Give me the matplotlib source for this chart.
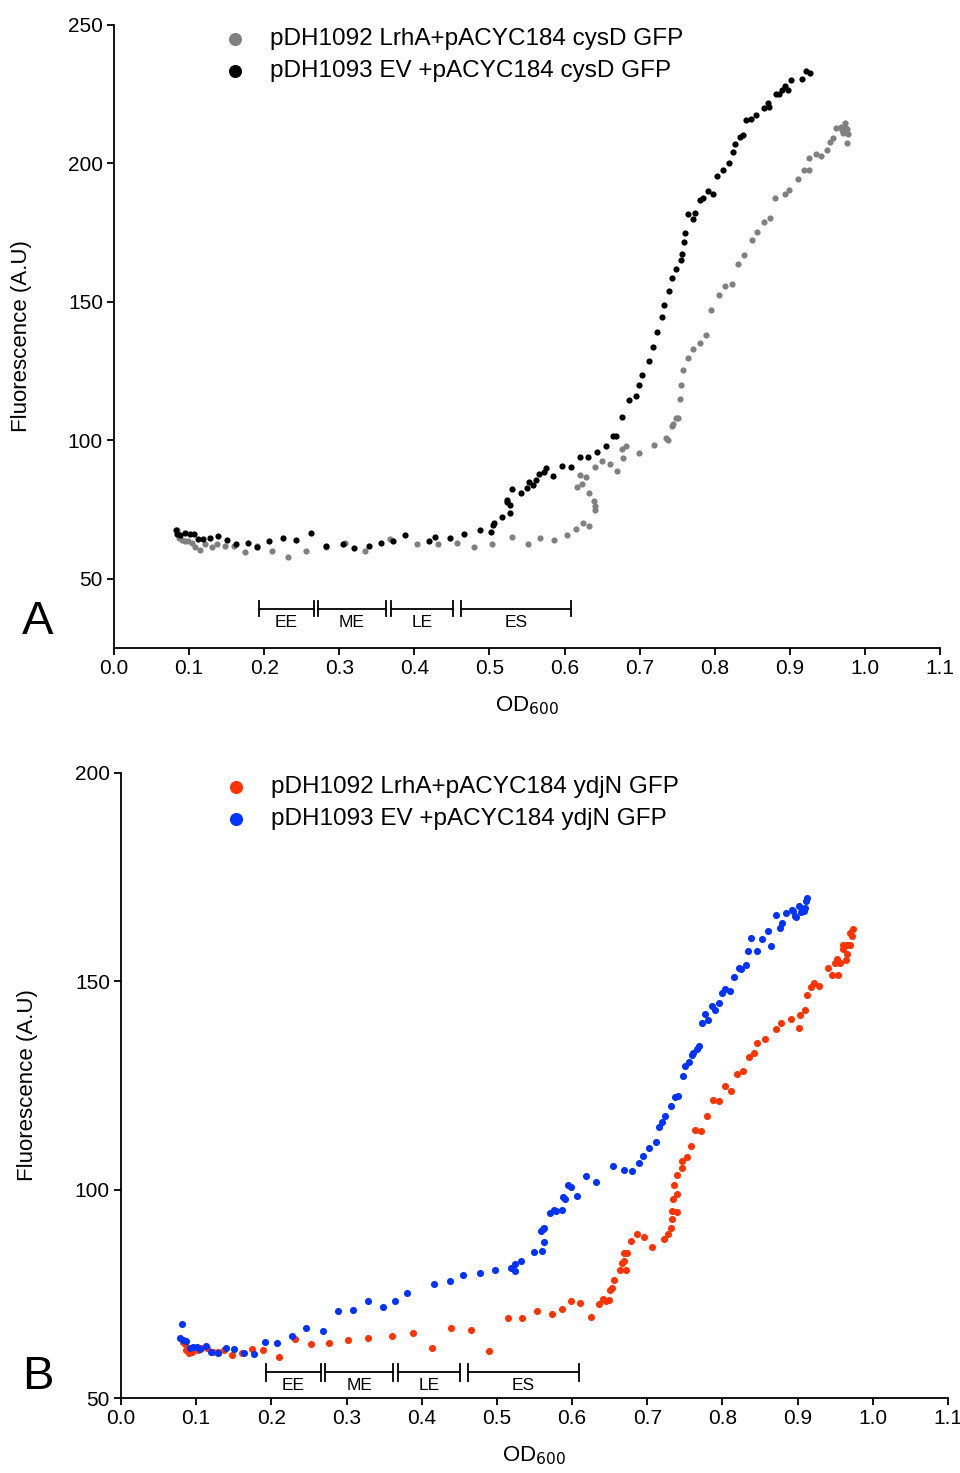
import matplotlib
matplotlib.use('Agg')
import matplotlib.pyplot as plt
import numpy as np

plt.rcParams['font.family'] = ['Liberation Sans', 'DejaVu Sans']

# ---- panel A : cysD GFP ----
lrha_cysd_x = [
    0.084, 0.086, 0.090, 0.095, 0.099, 0.104, 0.108, 0.115, 0.121, 0.130,
    0.137, 0.148, 0.160, 0.174, 0.190, 0.210, 0.232, 0.256, 0.282, 0.308,
    0.334, 0.368, 0.403, 0.432, 0.457, 0.479, 0.503, 0.530, 0.551, 0.567,
    0.586, 0.603, 0.615, 0.625, 0.632, 0.640, 0.641, 0.639, 0.633, 0.623,
    0.617, 0.621, 0.629, 0.641, 0.650, 0.661, 0.670, 0.678, 0.677, 0.682,
    0.699, 0.719, 0.735, 0.738, 0.743, 0.745, 0.748, 0.751, 0.754, 0.755,
    0.758, 0.764, 0.771, 0.781, 0.788, 0.795, 0.806, 0.814, 0.823, 0.831,
    0.839, 0.849, 0.856, 0.866, 0.873, 0.880, 0.894, 0.899, 0.911, 0.919,
    0.925, 0.926, 0.935, 0.942, 0.949, 0.953, 0.957, 0.962, 0.968, 0.973,
    0.976, 0.978, 0.976, 0.971, 0.969, 0.973]
lrha_cysd_y = [
    67.7, 64.7, 64.1, 63.8, 63.5, 62.9, 61.4, 60.5, 62.5, 61.4,
    62.5, 61.9, 61.7, 59.5, 61.9, 60.2, 57.9, 60.2, 61.3, 63.1,
    60.2, 64.3, 62.5, 62.7, 62.9, 61.6, 62.5, 65.2, 62.5, 64.8,
    64.1, 65.9, 67.8, 70.0, 69.1, 74.9, 76.4, 78.2, 80.9, 84.2,
    83.1, 87.4, 86.9, 90.2, 92.7, 91.3, 89.0, 93.6, 96.8, 97.8,
    95.6, 98.3, 100.8, 100.2, 105.0, 106.0, 108.0, 108.0, 114.9, 119.9,
    125.5, 129.7, 132.9, 135.3, 138.0, 146.9, 152.5, 155.7, 156.6, 163.7,
    166.9, 172.3, 175.2, 178.8, 180.4, 187.5, 188.9, 190.4, 194.3, 197.5,
    197.5, 202.1, 203.3, 202.7, 204.9, 207.7, 209.3, 212.7, 213.3, 214.7,
    212.5, 210.6, 207.3, 210.9, 212.0, 213.0]

ev_cysd_x = [
    0.082, 0.084, 0.088, 0.095, 0.101, 0.106, 0.112, 0.119, 0.128, 0.138,
    0.151, 0.163, 0.178, 0.191, 0.206, 0.225, 0.242, 0.262, 0.282, 0.305,
    0.319, 0.340, 0.356, 0.371, 0.388, 0.419, 0.427, 0.448, 0.466, 0.487,
    0.502, 0.505, 0.506, 0.517, 0.527, 0.528, 0.523, 0.524, 0.530, 0.542,
    0.550, 0.553, 0.558, 0.562, 0.566, 0.573, 0.575, 0.585, 0.597, 0.608,
    0.621, 0.631, 0.643, 0.655, 0.664, 0.669, 0.677, 0.686, 0.695, 0.699,
    0.703, 0.712, 0.718, 0.723, 0.730, 0.733, 0.739, 0.743, 0.749, 0.755,
    0.757, 0.759, 0.761, 0.764, 0.771, 0.774, 0.780, 0.785, 0.791, 0.798,
    0.803, 0.811, 0.819, 0.824, 0.827, 0.833, 0.837, 0.842, 0.848, 0.855,
    0.865, 0.872, 0.871, 0.881, 0.886, 0.889, 0.894, 0.898, 0.902, 0.916,
    0.922, 0.927]
ev_cysd_y = [
    67.7, 66.1, 65.9, 66.5, 66.1, 66.1, 64.5, 64.5, 64.7, 65.5,
    64.0, 62.5, 62.9, 61.3, 63.5, 64.9, 64.1, 66.7, 61.9, 62.7,
    61.2, 61.9, 63.1, 63.5, 65.9, 63.6, 65.1, 64.8, 66.2, 67.7,
    66.9, 69.5, 70.3, 72.3, 73.9, 76.7, 77.9, 78.5, 82.6, 80.9,
    82.7, 84.9, 83.9, 85.7, 87.9, 88.4, 90.1, 87.2, 90.8, 90.5,
    94.1, 94.1, 95.7, 97.8, 101.7, 101.6, 108.6, 114.4, 116.1, 120.1,
    123.5, 128.7, 133.6, 139.3, 144.6, 148.7, 153.9, 158.7, 161.8, 165.3,
    167.3, 171.7, 175.0, 181.7, 180.1, 182.0, 186.8, 187.6, 190.1, 189.1,
    195.5, 197.6, 200.1, 204.0, 207.1, 209.5, 210.3, 215.6, 216.1, 217.4,
    220.1, 220.5, 221.7, 225.1, 225.0, 226.5, 228.1, 226.6, 230.1, 230.5,
    233.4, 232.6]

# ---- panel B : ydjN GFP ----
lrha_ydjn_x = [
    0.083, 0.085, 0.087, 0.091, 0.094, 0.098, 0.103, 0.107, 0.114, 0.123,
    0.129, 0.137, 0.148, 0.161, 0.174, 0.189, 0.210, 0.231, 0.253, 0.276,
    0.302, 0.329, 0.360, 0.388, 0.414, 0.439, 0.466, 0.490, 0.515, 0.534,
    0.553, 0.573, 0.586, 0.599, 0.611, 0.625, 0.636, 0.641, 0.645, 0.649,
    0.651, 0.653, 0.656, 0.664, 0.672, 0.667, 0.669, 0.669, 0.673, 0.679,
    0.686, 0.695, 0.706, 0.722, 0.727, 0.731, 0.733, 0.739, 0.733, 0.734,
    0.739, 0.736, 0.739, 0.746, 0.746, 0.753, 0.758, 0.764, 0.772, 0.779,
    0.788, 0.796, 0.804, 0.812, 0.819, 0.827, 0.835, 0.842, 0.846, 0.857,
    0.871, 0.878, 0.891, 0.902, 0.903, 0.910, 0.913, 0.918, 0.922, 0.928,
    0.941, 0.946, 0.954, 0.950, 0.953, 0.957, 0.964, 0.965, 0.961, 0.961,
    0.965, 0.969, 0.972, 0.970, 0.974]
lrha_ydjn_y = [
    63.5, 62.9, 61.5, 60.9, 61.1, 61.9, 61.5, 61.9, 61.9, 61.1,
    61.1, 61.5, 60.3, 60.7, 61.8, 61.5, 59.9, 64.1, 63.0, 63.3,
    63.9, 64.5, 65.0, 65.6, 62.0, 66.8, 66.3, 61.4, 69.3, 69.2,
    71.0, 70.2, 71.3, 73.3, 72.7, 69.5, 72.5, 73.8, 73.4, 73.5,
    76.0, 76.4, 78.4, 80.8, 80.7, 82.4, 82.8, 84.9, 84.7, 87.7,
    89.4, 88.7, 86.2, 88.1, 89.4, 90.9, 93.0, 94.7, 95.0, 97.8,
    99.0, 101.2, 103.5, 105.1, 107.0, 107.9, 110.6, 114.4, 114.0, 117.7,
    121.6, 121.4, 124.9, 123.7, 127.8, 128.6, 131.9, 132.8, 135.1, 136.1,
    138.6, 140.0, 140.9, 138.9, 141.8, 143.0, 146.6, 148.6, 149.5, 148.8,
    153.1, 151.6, 151.6, 154.3, 155.3, 154.5, 155.1, 156.5, 157.7, 158.8,
    158.8, 158.7, 160.9, 161.7, 162.5]

ev_ydjn_x = [
    0.081, 0.079, 0.082, 0.086, 0.092, 0.096, 0.101, 0.105, 0.113, 0.120,
    0.129, 0.139, 0.150, 0.163, 0.177, 0.191, 0.208, 0.227, 0.246, 0.269,
    0.288, 0.308, 0.329, 0.348, 0.364, 0.380, 0.416, 0.438, 0.455, 0.477,
    0.498, 0.519, 0.524, 0.524, 0.532, 0.549, 0.560, 0.563, 0.559, 0.561,
    0.563, 0.571, 0.576, 0.579, 0.587, 0.588, 0.591, 0.594, 0.599, 0.607,
    0.619, 0.632, 0.654, 0.669, 0.680, 0.689, 0.694, 0.702, 0.711, 0.715,
    0.719, 0.724, 0.732, 0.737, 0.741, 0.747, 0.750, 0.755, 0.759, 0.761,
    0.766, 0.769, 0.773, 0.777, 0.781, 0.786, 0.790, 0.795, 0.800, 0.804,
    0.810, 0.815, 0.822, 0.825, 0.831, 0.834, 0.846, 0.838, 0.852, 0.860,
    0.865, 0.877, 0.879, 0.871, 0.885, 0.892, 0.894, 0.896, 0.898, 0.902,
    0.905, 0.909, 0.910, 0.911, 0.912]
ev_ydjn_y = [
    67.7, 64.4, 63.9, 63.7, 61.9, 62.2, 62.2, 61.8, 62.5, 61.1,
    60.8, 61.9, 61.8, 60.7, 60.5, 63.5, 63.1, 64.8, 66.8, 66.0,
    70.8, 71.2, 73.3, 71.9, 73.2, 75.3, 77.3, 78.0, 79.6, 80.0,
    80.8, 81.2, 80.6, 82.2, 82.9, 85.0, 85.3, 87.5, 90.1, 90.6,
    90.9, 94.5, 95.1, 95.0, 95.2, 98.2, 97.8, 101.2, 100.7, 98.6,
    103.4, 101.8, 105.8, 104.7, 104.4, 106.4, 108.2, 109.9, 111.5, 115.1,
    116.3, 117.6, 120.0, 122.3, 122.4, 127.2, 129.6, 130.6, 132.3, 132.9,
    133.7, 134.5, 139.9, 142.2, 140.6, 144.1, 143.0, 144.7, 147.3, 148.1,
    147.6, 151.1, 153.3, 152.9, 153.8, 157.3, 157.3, 160.3, 160.1, 162.0,
    158.5, 162.7, 164.1, 165.9, 166.4, 167.2, 166.8, 165.6, 165.4, 168.0,
    166.7, 166.8, 167.6, 169.2, 170.0]

# growth phases (OD600 ranges)
phase_labels = ['EE', 'ME', 'LE', 'ES']
phase_start = [0.193, 0.272, 0.369, 0.462]
phase_end = [0.266, 0.362, 0.451, 0.609]

xticks = np.round(np.arange(0, 1.11, 0.1), 1)


def style_axis(ax, ylim, yticks):
    ax.set_xlim(0, 1.1)
    ax.set_ylim(*ylim)
    ax.set_xticks(xticks)
    ax.set_xticklabels(['%.1f' % t for t in xticks])
    ax.set_yticks(yticks)
    for s in ['top', 'right']:
        ax.spines[s].set_visible(False)
    for s in ['left', 'bottom']:
        ax.spines[s].set_linewidth(1.3)
    ax.tick_params(direction='out', length=5, width=1.3, labelsize=15, pad=3)
    ax.set_xlabel('OD$_{600}$', fontsize=16)
    ax.set_ylabel('Fluorescence (A.U)', fontsize=16)


def draw_phases(ax, y, half, text_y):
    for lab, a, b in zip(phase_labels, phase_start, phase_end):
        ax.plot([a, b], [y, y], color='black', lw=1.3)
        ax.plot([a, a], [y - half, y + half], color='black', lw=1.3)
        ax.plot([b, b], [y - half, y + half], color='black', lw=1.3)
        ax.text((a + b) / 2, text_y, lab, ha='center', va='center', fontsize=12.5)


fig = plt.figure(figsize=(9.6, 14.73), dpi=100)
ax1 = fig.add_axes([114 / 960, 1 - 648 / 1473, 826 / 960, 623 / 1473])
ax2 = fig.add_axes([121 / 960, 1 - 1398 / 1473, 827 / 960, 625 / 1473])

ax1.scatter(lrha_cysd_x, lrha_cysd_y, s=20, color='#808080', linewidths=0,
            label='pDH1092 LrhA+pACYC184 cysD GFP')
ax1.scatter(ev_cysd_x, ev_cysd_y, s=20, color='black', linewidths=0,
            label='pDH1093 EV +pACYC184 cysD GFP')
style_axis(ax1, (25, 250), [50, 100, 150, 200, 250])
draw_phases(ax1, 39.2, 2.8, 34.2)

ax2.scatter(lrha_ydjn_x, lrha_ydjn_y, s=26, color='#ff3300', linewidths=0,
            label='pDH1092 LrhA+pACYC184 ydjN GFP')
ax2.scatter(ev_ydjn_x, ev_ydjn_y, s=26, color='#0033ff', linewidths=0,
            label='pDH1093 EV +pACYC184 ydjN GFP')
style_axis(ax2, (50, 200), [50, 100, 150, 200])
draw_phases(ax2, 56.2, 2.0, 53.0)

ax1.yaxis.set_label_coords(-0.099, 0.5)
ax2.yaxis.set_label_coords(-0.100, 0.5)
for ax, x0, y0, mscale in ((ax1, 0.132, 0.995, 2.1), (ax2, 0.124, 0.995, 1.85)):
    ax.xaxis.set_label_coords(0.5, -0.074)
    ax.legend(loc='upper left', bbox_to_anchor=(x0, y0), frameon=False,
              fontsize=17.5, handlelength=1.0, handletextpad=0.95,
              labelspacing=0.42, borderpad=0, borderaxespad=0,
              markerscale=mscale)

fig.text(38 / 960, 1 - 622 / 1473, 'A', fontsize=34, ha='center', va='center')
fig.text(38 / 960, 1 - 1377 / 1473, 'B', fontsize=34, ha='center', va='center')

fig.savefig('out.png', dpi=100)
